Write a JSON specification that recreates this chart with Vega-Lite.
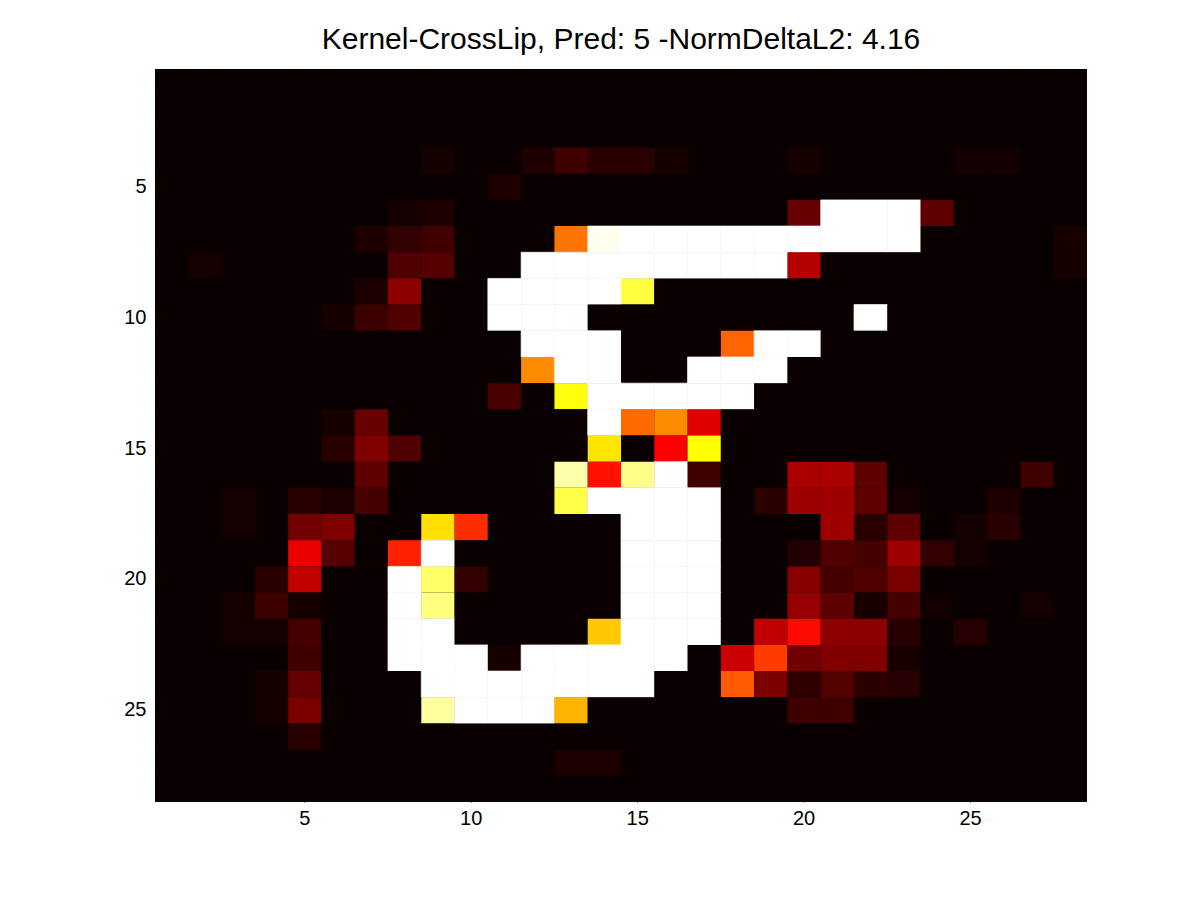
{"$schema":"https://vega.github.io/schema/vega-lite/v6.json","width":932,"height":733,"autosize":{"type":"none"},"padding":{"left":155,"top":69,"right":113,"bottom":98},"background":"white","title":{"text":"Kernel-CrossLip, Pred: 5 -NormDeltaL2: 4.16","font":"Liberation Sans","fontSize":30,"fontWeight":"normal","color":"#000000","anchor":"middle","offset":14},"view":{"stroke":null,"fill":"#0a0000"},"config":{"axis":{"labelFont":"Liberation Sans","labelFontSize":20,"labelColor":"#000000","title":null,"grid":false,"domain":false,"tickColor":"#000000","tickSize":-8,"labelAngle":0}},"data":{"values":[
{"x":1,"y":1,"v":10},{"x":2,"y":1,"v":10},{"x":3,"y":1,"v":10},{"x":4,"y":1,"v":10},{"x":5,"y":1,"v":10},{"x":6,"y":1,"v":10},{"x":7,"y":1,"v":10},{"x":8,"y":1,"v":10},{"x":9,"y":1,"v":10},{"x":10,"y":1,"v":10},{"x":11,"y":1,"v":10},{"x":12,"y":1,"v":10},{"x":13,"y":1,"v":10},{"x":14,"y":1,"v":10},{"x":15,"y":1,"v":10},{"x":16,"y":1,"v":10},{"x":17,"y":1,"v":10},{"x":18,"y":1,"v":10},{"x":19,"y":1,"v":10},{"x":20,"y":1,"v":10},{"x":21,"y":1,"v":10},{"x":22,"y":1,"v":10},{"x":23,"y":1,"v":10},{"x":24,"y":1,"v":10},{"x":25,"y":1,"v":10},{"x":26,"y":1,"v":10},{"x":27,"y":1,"v":10},{"x":28,"y":1,"v":10},
{"x":1,"y":2,"v":10},{"x":2,"y":2,"v":10},{"x":3,"y":2,"v":10},{"x":4,"y":2,"v":10},{"x":5,"y":2,"v":10},{"x":6,"y":2,"v":10},{"x":7,"y":2,"v":10},{"x":8,"y":2,"v":10},{"x":9,"y":2,"v":10},{"x":10,"y":2,"v":10},{"x":11,"y":2,"v":10},{"x":12,"y":2,"v":10},{"x":13,"y":2,"v":10},{"x":14,"y":2,"v":10},{"x":15,"y":2,"v":10},{"x":16,"y":2,"v":10},{"x":17,"y":2,"v":10},{"x":18,"y":2,"v":10},{"x":19,"y":2,"v":10},{"x":20,"y":2,"v":10},{"x":21,"y":2,"v":10},{"x":22,"y":2,"v":10},{"x":23,"y":2,"v":10},{"x":24,"y":2,"v":10},{"x":25,"y":2,"v":10},{"x":26,"y":2,"v":10},{"x":27,"y":2,"v":10},{"x":28,"y":2,"v":10},
{"x":1,"y":3,"v":10},{"x":2,"y":3,"v":10},{"x":3,"y":3,"v":10},{"x":4,"y":3,"v":10},{"x":5,"y":3,"v":10},{"x":6,"y":3,"v":10},{"x":7,"y":3,"v":10},{"x":8,"y":3,"v":10},{"x":9,"y":3,"v":10},{"x":10,"y":3,"v":10},{"x":11,"y":3,"v":10},{"x":12,"y":3,"v":10},{"x":13,"y":3,"v":10},{"x":14,"y":3,"v":10},{"x":15,"y":3,"v":10},{"x":16,"y":3,"v":10},{"x":17,"y":3,"v":10},{"x":18,"y":3,"v":10},{"x":19,"y":3,"v":10},{"x":20,"y":3,"v":10},{"x":21,"y":3,"v":10},{"x":22,"y":3,"v":10},{"x":23,"y":3,"v":10},{"x":24,"y":3,"v":10},{"x":25,"y":3,"v":10},{"x":26,"y":3,"v":10},{"x":27,"y":3,"v":10},{"x":28,"y":3,"v":10},
{"x":1,"y":4,"v":10},{"x":2,"y":4,"v":10},{"x":3,"y":4,"v":10},{"x":4,"y":4,"v":10},{"x":5,"y":4,"v":10},{"x":6,"y":4,"v":10},{"x":7,"y":4,"v":10},{"x":8,"y":4,"v":10},{"x":9,"y":4,"v":22},{"x":10,"y":4,"v":10},{"x":11,"y":4,"v":10},{"x":12,"y":4,"v":30},{"x":13,"y":4,"v":65},{"x":14,"y":4,"v":42},{"x":15,"y":4,"v":42},{"x":16,"y":4,"v":22},{"x":17,"y":4,"v":10},{"x":18,"y":4,"v":10},{"x":19,"y":4,"v":10},{"x":20,"y":4,"v":22},{"x":21,"y":4,"v":10},{"x":22,"y":4,"v":10},{"x":23,"y":4,"v":10},{"x":24,"y":4,"v":10},{"x":25,"y":4,"v":20},{"x":26,"y":4,"v":20},{"x":27,"y":4,"v":10},{"x":28,"y":4,"v":10},
{"x":1,"y":5,"v":10},{"x":2,"y":5,"v":10},{"x":3,"y":5,"v":10},{"x":4,"y":5,"v":10},{"x":5,"y":5,"v":10},{"x":6,"y":5,"v":10},{"x":7,"y":5,"v":10},{"x":8,"y":5,"v":10},{"x":9,"y":5,"v":10},{"x":10,"y":5,"v":10},{"x":11,"y":5,"v":30},{"x":12,"y":5,"v":10},{"x":13,"y":5,"v":10},{"x":14,"y":5,"v":10},{"x":15,"y":5,"v":10},{"x":16,"y":5,"v":10},{"x":17,"y":5,"v":10},{"x":18,"y":5,"v":10},{"x":19,"y":5,"v":10},{"x":20,"y":5,"v":10},{"x":21,"y":5,"v":10},{"x":22,"y":5,"v":10},{"x":23,"y":5,"v":10},{"x":24,"y":5,"v":10},{"x":25,"y":5,"v":10},{"x":26,"y":5,"v":10},{"x":27,"y":5,"v":10},{"x":28,"y":5,"v":10},
{"x":1,"y":6,"v":10},{"x":2,"y":6,"v":10},{"x":3,"y":6,"v":10},{"x":4,"y":6,"v":10},{"x":5,"y":6,"v":10},{"x":6,"y":6,"v":10},{"x":7,"y":6,"v":10},{"x":8,"y":6,"v":20},{"x":9,"y":6,"v":30},{"x":10,"y":6,"v":10},{"x":11,"y":6,"v":10},{"x":12,"y":6,"v":10},{"x":13,"y":6,"v":10},{"x":14,"y":6,"v":10},{"x":15,"y":6,"v":10},{"x":16,"y":6,"v":10},{"x":17,"y":6,"v":10},{"x":18,"y":6,"v":10},{"x":19,"y":6,"v":10},{"x":20,"y":6,"v":105},{"x":21,"y":6,"v":765},{"x":22,"y":6,"v":765},{"x":23,"y":6,"v":765},{"x":24,"y":6,"v":95},{"x":25,"y":6,"v":10},{"x":26,"y":6,"v":10},{"x":27,"y":6,"v":10},{"x":28,"y":6,"v":10},
{"x":1,"y":7,"v":10},{"x":2,"y":7,"v":10},{"x":3,"y":7,"v":10},{"x":4,"y":7,"v":10},{"x":5,"y":7,"v":10},{"x":6,"y":7,"v":10},{"x":7,"y":7,"v":30},{"x":8,"y":7,"v":50},{"x":9,"y":7,"v":65},{"x":10,"y":7,"v":10},{"x":11,"y":7,"v":10},{"x":12,"y":7,"v":10},{"x":13,"y":7,"v":370},{"x":14,"y":7,"v":750},{"x":15,"y":7,"v":765},{"x":16,"y":7,"v":765},{"x":17,"y":7,"v":765},{"x":18,"y":7,"v":765},{"x":19,"y":7,"v":765},{"x":20,"y":7,"v":765},{"x":21,"y":7,"v":765},{"x":22,"y":7,"v":765},{"x":23,"y":7,"v":765},{"x":24,"y":7,"v":10},{"x":25,"y":7,"v":10},{"x":26,"y":7,"v":10},{"x":27,"y":7,"v":10},{"x":28,"y":7,"v":22},
{"x":1,"y":8,"v":10},{"x":2,"y":8,"v":20},{"x":3,"y":8,"v":10},{"x":4,"y":8,"v":10},{"x":5,"y":8,"v":10},{"x":6,"y":8,"v":10},{"x":7,"y":8,"v":10},{"x":8,"y":8,"v":80},{"x":9,"y":8,"v":85},{"x":10,"y":8,"v":10},{"x":11,"y":8,"v":10},{"x":12,"y":8,"v":765},{"x":13,"y":8,"v":765},{"x":14,"y":8,"v":765},{"x":15,"y":8,"v":765},{"x":16,"y":8,"v":765},{"x":17,"y":8,"v":765},{"x":18,"y":8,"v":765},{"x":19,"y":8,"v":765},{"x":20,"y":8,"v":180},{"x":21,"y":8,"v":10},{"x":22,"y":8,"v":10},{"x":23,"y":8,"v":10},{"x":24,"y":8,"v":10},{"x":25,"y":8,"v":10},{"x":26,"y":8,"v":10},{"x":27,"y":8,"v":10},{"x":28,"y":8,"v":22},
{"x":1,"y":9,"v":10},{"x":2,"y":9,"v":10},{"x":3,"y":9,"v":10},{"x":4,"y":9,"v":10},{"x":5,"y":9,"v":10},{"x":6,"y":9,"v":10},{"x":7,"y":9,"v":28},{"x":8,"y":9,"v":140},{"x":9,"y":9,"v":10},{"x":10,"y":9,"v":10},{"x":11,"y":9,"v":765},{"x":12,"y":9,"v":765},{"x":13,"y":9,"v":765},{"x":14,"y":9,"v":765},{"x":15,"y":9,"v":574},{"x":16,"y":9,"v":10},{"x":17,"y":9,"v":10},{"x":18,"y":9,"v":10},{"x":19,"y":9,"v":10},{"x":20,"y":9,"v":10},{"x":21,"y":9,"v":10},{"x":22,"y":9,"v":10},{"x":23,"y":9,"v":10},{"x":24,"y":9,"v":10},{"x":25,"y":9,"v":10},{"x":26,"y":9,"v":10},{"x":27,"y":9,"v":10},{"x":28,"y":9,"v":10},
{"x":1,"y":10,"v":10},{"x":2,"y":10,"v":10},{"x":3,"y":10,"v":10},{"x":4,"y":10,"v":10},{"x":5,"y":10,"v":10},{"x":6,"y":10,"v":22},{"x":7,"y":10,"v":60},{"x":8,"y":10,"v":80},{"x":9,"y":10,"v":10},{"x":10,"y":10,"v":10},{"x":11,"y":10,"v":765},{"x":12,"y":10,"v":765},{"x":13,"y":10,"v":765},{"x":14,"y":10,"v":10},{"x":15,"y":10,"v":10},{"x":16,"y":10,"v":10},{"x":17,"y":10,"v":10},{"x":18,"y":10,"v":10},{"x":19,"y":10,"v":10},{"x":20,"y":10,"v":10},{"x":21,"y":10,"v":10},{"x":22,"y":10,"v":765},{"x":23,"y":10,"v":10},{"x":24,"y":10,"v":10},{"x":25,"y":10,"v":10},{"x":26,"y":10,"v":10},{"x":27,"y":10,"v":10},{"x":28,"y":10,"v":10},
{"x":1,"y":11,"v":10},{"x":2,"y":11,"v":10},{"x":3,"y":11,"v":10},{"x":4,"y":11,"v":10},{"x":5,"y":11,"v":10},{"x":6,"y":11,"v":10},{"x":7,"y":11,"v":10},{"x":8,"y":11,"v":10},{"x":9,"y":11,"v":10},{"x":10,"y":11,"v":10},{"x":11,"y":11,"v":10},{"x":12,"y":11,"v":765},{"x":13,"y":11,"v":765},{"x":14,"y":11,"v":765},{"x":15,"y":11,"v":10},{"x":16,"y":11,"v":10},{"x":17,"y":11,"v":10},{"x":18,"y":11,"v":355},{"x":19,"y":11,"v":765},{"x":20,"y":11,"v":765},{"x":21,"y":11,"v":10},{"x":22,"y":11,"v":10},{"x":23,"y":11,"v":10},{"x":24,"y":11,"v":10},{"x":25,"y":11,"v":10},{"x":26,"y":11,"v":10},{"x":27,"y":11,"v":10},{"x":28,"y":11,"v":10},
{"x":1,"y":12,"v":10},{"x":2,"y":12,"v":10},{"x":3,"y":12,"v":10},{"x":4,"y":12,"v":10},{"x":5,"y":12,"v":10},{"x":6,"y":12,"v":10},{"x":7,"y":12,"v":10},{"x":8,"y":12,"v":10},{"x":9,"y":12,"v":10},{"x":10,"y":12,"v":10},{"x":11,"y":12,"v":10},{"x":12,"y":12,"v":395},{"x":13,"y":12,"v":765},{"x":14,"y":12,"v":765},{"x":15,"y":12,"v":10},{"x":16,"y":12,"v":10},{"x":17,"y":12,"v":765},{"x":18,"y":12,"v":765},{"x":19,"y":12,"v":765},{"x":20,"y":12,"v":10},{"x":21,"y":12,"v":10},{"x":22,"y":12,"v":10},{"x":23,"y":12,"v":10},{"x":24,"y":12,"v":10},{"x":25,"y":12,"v":10},{"x":26,"y":12,"v":10},{"x":27,"y":12,"v":10},{"x":28,"y":12,"v":10},
{"x":1,"y":13,"v":10},{"x":2,"y":13,"v":10},{"x":3,"y":13,"v":10},{"x":4,"y":13,"v":10},{"x":5,"y":13,"v":10},{"x":6,"y":13,"v":10},{"x":7,"y":13,"v":10},{"x":8,"y":13,"v":10},{"x":9,"y":13,"v":10},{"x":10,"y":13,"v":10},{"x":11,"y":13,"v":75},{"x":12,"y":13,"v":10},{"x":13,"y":13,"v":520},{"x":14,"y":13,"v":765},{"x":15,"y":13,"v":765},{"x":16,"y":13,"v":765},{"x":17,"y":13,"v":765},{"x":18,"y":13,"v":765},{"x":19,"y":13,"v":10},{"x":20,"y":13,"v":10},{"x":21,"y":13,"v":10},{"x":22,"y":13,"v":10},{"x":23,"y":13,"v":10},{"x":24,"y":13,"v":10},{"x":25,"y":13,"v":10},{"x":26,"y":13,"v":10},{"x":27,"y":13,"v":10},{"x":28,"y":13,"v":10},
{"x":1,"y":14,"v":10},{"x":2,"y":14,"v":10},{"x":3,"y":14,"v":10},{"x":4,"y":14,"v":10},{"x":5,"y":14,"v":10},{"x":6,"y":14,"v":22},{"x":7,"y":14,"v":105},{"x":8,"y":14,"v":10},{"x":9,"y":14,"v":10},{"x":10,"y":14,"v":10},{"x":11,"y":14,"v":10},{"x":12,"y":14,"v":10},{"x":13,"y":14,"v":10},{"x":14,"y":14,"v":765},{"x":15,"y":14,"v":361},{"x":16,"y":14,"v":395},{"x":17,"y":14,"v":224},{"x":18,"y":14,"v":10},{"x":19,"y":14,"v":10},{"x":20,"y":14,"v":10},{"x":21,"y":14,"v":10},{"x":22,"y":14,"v":10},{"x":23,"y":14,"v":10},{"x":24,"y":14,"v":10},{"x":25,"y":14,"v":10},{"x":26,"y":14,"v":10},{"x":27,"y":14,"v":10},{"x":28,"y":14,"v":10},
{"x":1,"y":15,"v":10},{"x":2,"y":15,"v":10},{"x":3,"y":15,"v":10},{"x":4,"y":15,"v":10},{"x":5,"y":15,"v":10},{"x":6,"y":15,"v":40},{"x":7,"y":15,"v":128},{"x":8,"y":15,"v":80},{"x":9,"y":15,"v":10},{"x":10,"y":15,"v":10},{"x":11,"y":15,"v":10},{"x":12,"y":15,"v":10},{"x":13,"y":15,"v":10},{"x":14,"y":15,"v":485},{"x":15,"y":15,"v":10},{"x":16,"y":15,"v":255},{"x":17,"y":15,"v":510},{"x":18,"y":15,"v":10},{"x":19,"y":15,"v":10},{"x":20,"y":15,"v":10},{"x":21,"y":15,"v":10},{"x":22,"y":15,"v":10},{"x":23,"y":15,"v":10},{"x":24,"y":15,"v":10},{"x":25,"y":15,"v":10},{"x":26,"y":15,"v":10},{"x":27,"y":15,"v":10},{"x":28,"y":15,"v":10},
{"x":1,"y":16,"v":10},{"x":2,"y":16,"v":10},{"x":3,"y":16,"v":10},{"x":4,"y":16,"v":10},{"x":5,"y":16,"v":10},{"x":6,"y":16,"v":10},{"x":7,"y":16,"v":95},{"x":8,"y":16,"v":10},{"x":9,"y":16,"v":10},{"x":10,"y":16,"v":10},{"x":11,"y":16,"v":10},{"x":12,"y":16,"v":10},{"x":13,"y":16,"v":680},{"x":14,"y":16,"v":271},{"x":15,"y":16,"v":646},{"x":16,"y":16,"v":765},{"x":17,"y":16,"v":65},{"x":18,"y":16,"v":10},{"x":19,"y":16,"v":10},{"x":20,"y":16,"v":172},{"x":21,"y":16,"v":172},{"x":22,"y":16,"v":95},{"x":23,"y":16,"v":10},{"x":24,"y":16,"v":10},{"x":25,"y":16,"v":10},{"x":26,"y":16,"v":10},{"x":27,"y":16,"v":65},{"x":28,"y":16,"v":10},
{"x":1,"y":17,"v":10},{"x":2,"y":17,"v":10},{"x":3,"y":17,"v":20},{"x":4,"y":17,"v":10},{"x":5,"y":17,"v":40},{"x":6,"y":17,"v":28},{"x":7,"y":17,"v":70},{"x":8,"y":17,"v":10},{"x":9,"y":17,"v":10},{"x":10,"y":17,"v":10},{"x":11,"y":17,"v":10},{"x":12,"y":17,"v":10},{"x":13,"y":17,"v":582},{"x":14,"y":17,"v":765},{"x":15,"y":17,"v":765},{"x":16,"y":17,"v":765},{"x":17,"y":17,"v":765},{"x":18,"y":17,"v":10},{"x":19,"y":17,"v":45},{"x":20,"y":17,"v":158},{"x":21,"y":17,"v":158},{"x":22,"y":17,"v":95},{"x":23,"y":17,"v":20},{"x":24,"y":17,"v":10},{"x":25,"y":17,"v":10},{"x":26,"y":17,"v":30},{"x":27,"y":17,"v":10},{"x":28,"y":17,"v":10},
{"x":1,"y":18,"v":10},{"x":2,"y":18,"v":10},{"x":3,"y":18,"v":20},{"x":4,"y":18,"v":10},{"x":5,"y":18,"v":115},{"x":6,"y":18,"v":128},{"x":7,"y":18,"v":10},{"x":8,"y":18,"v":10},{"x":9,"y":18,"v":479},{"x":10,"y":18,"v":299},{"x":11,"y":18,"v":10},{"x":12,"y":18,"v":10},{"x":13,"y":18,"v":10},{"x":14,"y":18,"v":10},{"x":15,"y":18,"v":765},{"x":16,"y":18,"v":765},{"x":17,"y":18,"v":765},{"x":18,"y":18,"v":10},{"x":19,"y":18,"v":10},{"x":20,"y":18,"v":10},{"x":21,"y":18,"v":158},{"x":22,"y":18,"v":40},{"x":23,"y":18,"v":95},{"x":24,"y":18,"v":10},{"x":25,"y":18,"v":20},{"x":26,"y":18,"v":40},{"x":27,"y":18,"v":10},{"x":28,"y":18,"v":10},
{"x":1,"y":19,"v":10},{"x":2,"y":19,"v":10},{"x":3,"y":19,"v":10},{"x":4,"y":19,"v":10},{"x":5,"y":19,"v":235},{"x":6,"y":19,"v":85},{"x":7,"y":19,"v":10},{"x":8,"y":19,"v":287},{"x":9,"y":19,"v":765},{"x":10,"y":19,"v":10},{"x":11,"y":19,"v":10},{"x":12,"y":19,"v":10},{"x":13,"y":19,"v":10},{"x":14,"y":19,"v":10},{"x":15,"y":19,"v":765},{"x":16,"y":19,"v":765},{"x":17,"y":19,"v":765},{"x":18,"y":19,"v":10},{"x":19,"y":19,"v":10},{"x":20,"y":19,"v":32},{"x":21,"y":19,"v":80},{"x":22,"y":19,"v":70},{"x":23,"y":19,"v":158},{"x":24,"y":19,"v":50},{"x":25,"y":19,"v":20},{"x":26,"y":19,"v":10},{"x":27,"y":19,"v":10},{"x":28,"y":19,"v":10},
{"x":1,"y":20,"v":10},{"x":2,"y":20,"v":10},{"x":3,"y":20,"v":10},{"x":4,"y":20,"v":45},{"x":5,"y":20,"v":195},{"x":6,"y":20,"v":10},{"x":7,"y":20,"v":10},{"x":8,"y":20,"v":765},{"x":9,"y":20,"v":614},{"x":10,"y":20,"v":50},{"x":11,"y":20,"v":10},{"x":12,"y":20,"v":10},{"x":13,"y":20,"v":10},{"x":14,"y":20,"v":10},{"x":15,"y":20,"v":765},{"x":16,"y":20,"v":765},{"x":17,"y":20,"v":765},{"x":18,"y":20,"v":10},{"x":19,"y":20,"v":10},{"x":20,"y":20,"v":135},{"x":21,"y":20,"v":70},{"x":22,"y":20,"v":80},{"x":23,"y":20,"v":120},{"x":24,"y":20,"v":10},{"x":25,"y":20,"v":10},{"x":26,"y":20,"v":10},{"x":27,"y":20,"v":10},{"x":28,"y":20,"v":10},
{"x":1,"y":21,"v":10},{"x":2,"y":21,"v":10},{"x":3,"y":21,"v":20},{"x":4,"y":21,"v":60},{"x":5,"y":21,"v":22},{"x":6,"y":21,"v":10},{"x":7,"y":21,"v":10},{"x":8,"y":21,"v":765},{"x":9,"y":21,"v":638},{"x":10,"y":21,"v":10},{"x":11,"y":21,"v":10},{"x":12,"y":21,"v":10},{"x":13,"y":21,"v":10},{"x":14,"y":21,"v":10},{"x":15,"y":21,"v":765},{"x":16,"y":21,"v":765},{"x":17,"y":21,"v":765},{"x":18,"y":21,"v":10},{"x":19,"y":21,"v":10},{"x":20,"y":21,"v":150},{"x":21,"y":21,"v":92},{"x":22,"y":21,"v":25},{"x":23,"y":21,"v":70},{"x":24,"y":21,"v":18},{"x":25,"y":21,"v":10},{"x":26,"y":21,"v":10},{"x":27,"y":21,"v":20},{"x":28,"y":21,"v":10},
{"x":1,"y":22,"v":10},{"x":2,"y":22,"v":10},{"x":3,"y":22,"v":20},{"x":4,"y":22,"v":20},{"x":5,"y":22,"v":70},{"x":6,"y":22,"v":10},{"x":7,"y":22,"v":10},{"x":8,"y":22,"v":765},{"x":9,"y":22,"v":765},{"x":10,"y":22,"v":10},{"x":11,"y":22,"v":10},{"x":12,"y":22,"v":10},{"x":13,"y":22,"v":10},{"x":14,"y":22,"v":455},{"x":15,"y":22,"v":765},{"x":16,"y":22,"v":765},{"x":17,"y":22,"v":765},{"x":18,"y":22,"v":10},{"x":19,"y":22,"v":192},{"x":20,"y":22,"v":265},{"x":21,"y":22,"v":140},{"x":22,"y":22,"v":140},{"x":23,"y":22,"v":40},{"x":24,"y":22,"v":10},{"x":25,"y":22,"v":38},{"x":26,"y":22,"v":10},{"x":27,"y":22,"v":10},{"x":28,"y":22,"v":10},
{"x":1,"y":23,"v":10},{"x":2,"y":23,"v":10},{"x":3,"y":23,"v":10},{"x":4,"y":23,"v":10},{"x":5,"y":23,"v":65},{"x":6,"y":23,"v":10},{"x":7,"y":23,"v":10},{"x":8,"y":23,"v":765},{"x":9,"y":23,"v":765},{"x":10,"y":23,"v":765},{"x":11,"y":23,"v":22},{"x":12,"y":23,"v":765},{"x":13,"y":23,"v":765},{"x":14,"y":23,"v":765},{"x":15,"y":23,"v":765},{"x":16,"y":23,"v":765},{"x":17,"y":23,"v":10},{"x":18,"y":23,"v":204},{"x":19,"y":23,"v":315},{"x":20,"y":23,"v":115},{"x":21,"y":23,"v":128},{"x":22,"y":23,"v":128},{"x":23,"y":23,"v":25},{"x":24,"y":23,"v":10},{"x":25,"y":23,"v":10},{"x":26,"y":23,"v":10},{"x":27,"y":23,"v":10},{"x":28,"y":23,"v":10},
{"x":1,"y":24,"v":10},{"x":2,"y":24,"v":10},{"x":3,"y":24,"v":10},{"x":4,"y":24,"v":22},{"x":5,"y":24,"v":100},{"x":6,"y":24,"v":10},{"x":7,"y":24,"v":10},{"x":8,"y":24,"v":10},{"x":9,"y":24,"v":765},{"x":10,"y":24,"v":765},{"x":11,"y":24,"v":765},{"x":12,"y":24,"v":765},{"x":13,"y":24,"v":765},{"x":14,"y":24,"v":765},{"x":15,"y":24,"v":765},{"x":16,"y":24,"v":10},{"x":17,"y":24,"v":10},{"x":18,"y":24,"v":345},{"x":19,"y":24,"v":125},{"x":20,"y":24,"v":48},{"x":21,"y":24,"v":82},{"x":22,"y":24,"v":45},{"x":23,"y":24,"v":38},{"x":24,"y":24,"v":10},{"x":25,"y":24,"v":10},{"x":26,"y":24,"v":10},{"x":27,"y":24,"v":10},{"x":28,"y":24,"v":10},
{"x":1,"y":25,"v":10},{"x":2,"y":25,"v":10},{"x":3,"y":25,"v":10},{"x":4,"y":25,"v":22},{"x":5,"y":25,"v":122},{"x":6,"y":25,"v":10},{"x":7,"y":25,"v":10},{"x":8,"y":25,"v":10},{"x":9,"y":25,"v":670},{"x":10,"y":25,"v":765},{"x":11,"y":25,"v":765},{"x":12,"y":25,"v":765},{"x":13,"y":25,"v":435},{"x":14,"y":25,"v":10},{"x":15,"y":25,"v":10},{"x":16,"y":25,"v":10},{"x":17,"y":25,"v":10},{"x":18,"y":25,"v":10},{"x":19,"y":25,"v":10},{"x":20,"y":25,"v":62},{"x":21,"y":25,"v":62},{"x":22,"y":25,"v":10},{"x":23,"y":25,"v":10},{"x":24,"y":25,"v":10},{"x":25,"y":25,"v":10},{"x":26,"y":25,"v":10},{"x":27,"y":25,"v":10},{"x":28,"y":25,"v":10},
{"x":1,"y":26,"v":10},{"x":2,"y":26,"v":10},{"x":3,"y":26,"v":10},{"x":4,"y":26,"v":10},{"x":5,"y":26,"v":40},{"x":6,"y":26,"v":10},{"x":7,"y":26,"v":10},{"x":8,"y":26,"v":10},{"x":9,"y":26,"v":10},{"x":10,"y":26,"v":10},{"x":11,"y":26,"v":10},{"x":12,"y":26,"v":10},{"x":13,"y":26,"v":10},{"x":14,"y":26,"v":10},{"x":15,"y":26,"v":10},{"x":16,"y":26,"v":10},{"x":17,"y":26,"v":10},{"x":18,"y":26,"v":10},{"x":19,"y":26,"v":10},{"x":20,"y":26,"v":10},{"x":21,"y":26,"v":10},{"x":22,"y":26,"v":10},{"x":23,"y":26,"v":10},{"x":24,"y":26,"v":10},{"x":25,"y":26,"v":10},{"x":26,"y":26,"v":10},{"x":27,"y":26,"v":10},{"x":28,"y":26,"v":10},
{"x":1,"y":27,"v":10},{"x":2,"y":27,"v":10},{"x":3,"y":27,"v":10},{"x":4,"y":27,"v":10},{"x":5,"y":27,"v":10},{"x":6,"y":27,"v":10},{"x":7,"y":27,"v":10},{"x":8,"y":27,"v":10},{"x":9,"y":27,"v":10},{"x":10,"y":27,"v":10},{"x":11,"y":27,"v":10},{"x":12,"y":27,"v":10},{"x":13,"y":27,"v":28},{"x":14,"y":27,"v":28},{"x":15,"y":27,"v":10},{"x":16,"y":27,"v":10},{"x":17,"y":27,"v":10},{"x":18,"y":27,"v":10},{"x":19,"y":27,"v":10},{"x":20,"y":27,"v":10},{"x":21,"y":27,"v":10},{"x":22,"y":27,"v":10},{"x":23,"y":27,"v":10},{"x":24,"y":27,"v":10},{"x":25,"y":27,"v":10},{"x":26,"y":27,"v":10},{"x":27,"y":27,"v":10},{"x":28,"y":27,"v":10},
{"x":1,"y":28,"v":10},{"x":2,"y":28,"v":10},{"x":3,"y":28,"v":10},{"x":4,"y":28,"v":10},{"x":5,"y":28,"v":10},{"x":6,"y":28,"v":10},{"x":7,"y":28,"v":10},{"x":8,"y":28,"v":10},{"x":9,"y":28,"v":10},{"x":10,"y":28,"v":10},{"x":11,"y":28,"v":10},{"x":12,"y":28,"v":10},{"x":13,"y":28,"v":10},{"x":14,"y":28,"v":10},{"x":15,"y":28,"v":10},{"x":16,"y":28,"v":10},{"x":17,"y":28,"v":10},{"x":18,"y":28,"v":10},{"x":19,"y":28,"v":10},{"x":20,"y":28,"v":10},{"x":21,"y":28,"v":10},{"x":22,"y":28,"v":10},{"x":23,"y":28,"v":10},{"x":24,"y":28,"v":10},{"x":25,"y":28,"v":10},{"x":26,"y":28,"v":10},{"x":27,"y":28,"v":10},{"x":28,"y":28,"v":10}
]},"mark":{"type":"rect","strokeWidth":0.7},"encoding":{"x":{"field":"x","type":"ordinal","scale":{"paddingInner":0,"paddingOuter":0,"round":false},"axis":{"values":[5,10,15,20,25],"orient":"bottom","labelPadding":14}},"y":{"field":"y","type":"ordinal","scale":{"paddingInner":0,"paddingOuter":0,"round":false},"axis":{"values":[5,10,15,20,25],"orient":"left","labelPadding":17}},"color":{"field":"v","type":"quantitative","legend":null,"scale":{"type":"linear","domain":[0,255,510,765],"range":["#000000","#ff0000","#ffff00","#ffffff"],"interpolate":"rgb"}},"stroke":{"condition":{"test":"datum.v>=750","value":"#ffffff"},"value":null}}}
